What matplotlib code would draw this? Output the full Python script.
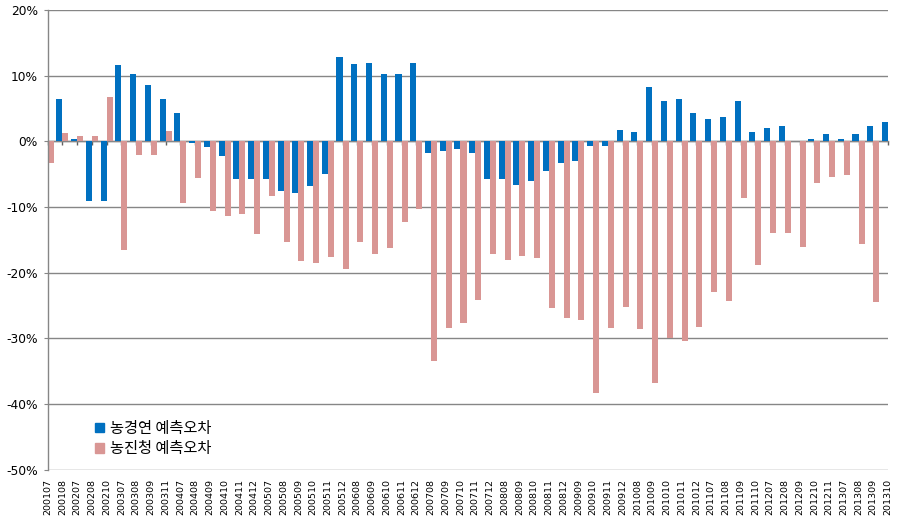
import numpy as np
import matplotlib
matplotlib.use("Agg")
import matplotlib.pyplot as plt
from matplotlib.patches import Patch

labels = ["200107", "200108", "200207", "200208", "200210", "200307", "200308", "200309",
          "200311", "200407", "200408", "200409", "200410", "200411", "200412", "200507",
          "200508", "200509", "200510", "200511", "200512", "200608", "200609", "200610",
          "200611", "200612", "200708", "200709", "200710", "200711", "200712", "200808",
          "200809", "200810", "200811", "200812", "200909", "200910", "200911", "200912",
          "201008", "201009", "201010", "201011", "201012", "201107", "201108", "201109",
          "201110", "201207", "201208", "201209", "201210", "201211", "201307", "201308",
          "201309", "201310"]

# 농경연 예측오차 (%)
kreI = [np.nan, 6.5, 0.3, -9.1, -9.1, 11.6, 10.2, 8.5,
        6.4, 4.3, -0.25, -0.9, -2.2, -5.7, -5.7, -5.7,
        -7.6, -7.9, -6.8, -5.0, 12.9, 11.7, 12.0, 10.2,
        10.2, 12.0, -1.8, -1.5, -1.2, -1.8, -5.7, -5.7,
        -6.6, -6.0, -4.5, -3.3, -3.0, -0.7, -0.7, 1.7,
        1.4, 8.2, 6.2, 6.5, 4.3, 3.35, 3.65, 6.2,
        1.4, 2.1, 2.4, 0.0, 0.3, 1.1, 0.3, 1.1,
        2.4, 2.9]

# 농진청 예측오차 (%)
rda = [-3.3, 1.2, 0.8, 0.8, 6.8, -16.5, -2.1, -2.1,
       1.5, -9.4, -5.6, -10.6, -11.4, -11.1, -14.1, -8.3,
       -15.3, -18.2, -18.6, -17.7, -19.5, -15.3, -17.2, -16.2,
       -12.3, -10.3, -33.5, -28.5, -27.7, -24.2, -17.2, -18.1,
       -17.4, -17.8, -25.4, -26.9, -27.2, -38.4, -28.4, -25.3,
       -28.6, -36.8, -30.0, -30.4, -28.3, -23.0, -24.4, -8.6,
       -18.9, -13.9, -13.9, -16.1, -6.4, -5.5, -5.1, -15.7,
       -24.5, -37.1]

series_names = ["농경연 예측오차", "농진청 예측오차"]
yticks = [20, 10, 0, -10, -20, -30, -40, -50]

blue = "#0070C0"
pink = "#D99694"
grid_c = "#868686"

fig = plt.figure(figsize=(9.08, 5.18), dpi=100)
ax = fig.add_axes([0.0525, 0.0936, 0.9255, 0.8871])

x = np.arange(len(labels))
w = 0.41
ax.bar(x, kreI, width=-w, align="edge", color=blue, zorder=2, linewidth=0)
ax.bar(x, rda, width=w, align="edge", color=pink, zorder=2, linewidth=0)

ax.set_xlim(0, len(labels) - 1)
ax.set_ylim(-50, 20)
ax.set_yticks(yticks)
ax.set_yticklabels([f"{v}%" for v in yticks], fontsize=8.8)
ax.yaxis.grid(True, color=grid_c, linewidth=1.0, zorder=0)
ax.set_axisbelow(True)
ax.tick_params(axis="y", length=3, color=grid_c, pad=4)

ax.set_xticks(x)
ax.set_xticklabels(labels, rotation=90, fontsize=6.8)
ax.tick_params(axis="x", length=0, pad=7)

for s in ["top", "right", "bottom"]:
    ax.spines[s].set_visible(False)
ax.spines["left"].set_color(grid_c)
ax.spines["left"].set_linewidth(1.0)

# zero axis line with category tick marks
ylo, yhi = ax.get_ylim()
sec = ax.secondary_xaxis((0 - ylo) / (yhi - ylo))
sec.set_alignment("bottom")
sec.set_xticks(x)
sec.set_xticklabels([])
sec.tick_params(axis="x", direction="out", length=3, color="#606060", width=1)
sec.spines["bottom"].set_color(grid_c)
sec.spines["bottom"].set_linewidth(1.0)
for s in ["top", "left", "right"]:
    if s in sec.spines:
        sec.spines[s].set_visible(False)

handles = [Patch(color=blue), Patch(color=pink)]
ax.legend(handles, series_names, loc="upper left", bbox_to_anchor=(0.056, 0.108),
          frameon=False, handlelength=0.6, handleheight=0.6, handletextpad=0.4,
          labelspacing=0.22, borderpad=0, borderaxespad=0,
          prop={"family": ["Noto Sans CJK KR", "DejaVu Sans"], "size": 11})

fig.savefig("out.png", dpi=100)
